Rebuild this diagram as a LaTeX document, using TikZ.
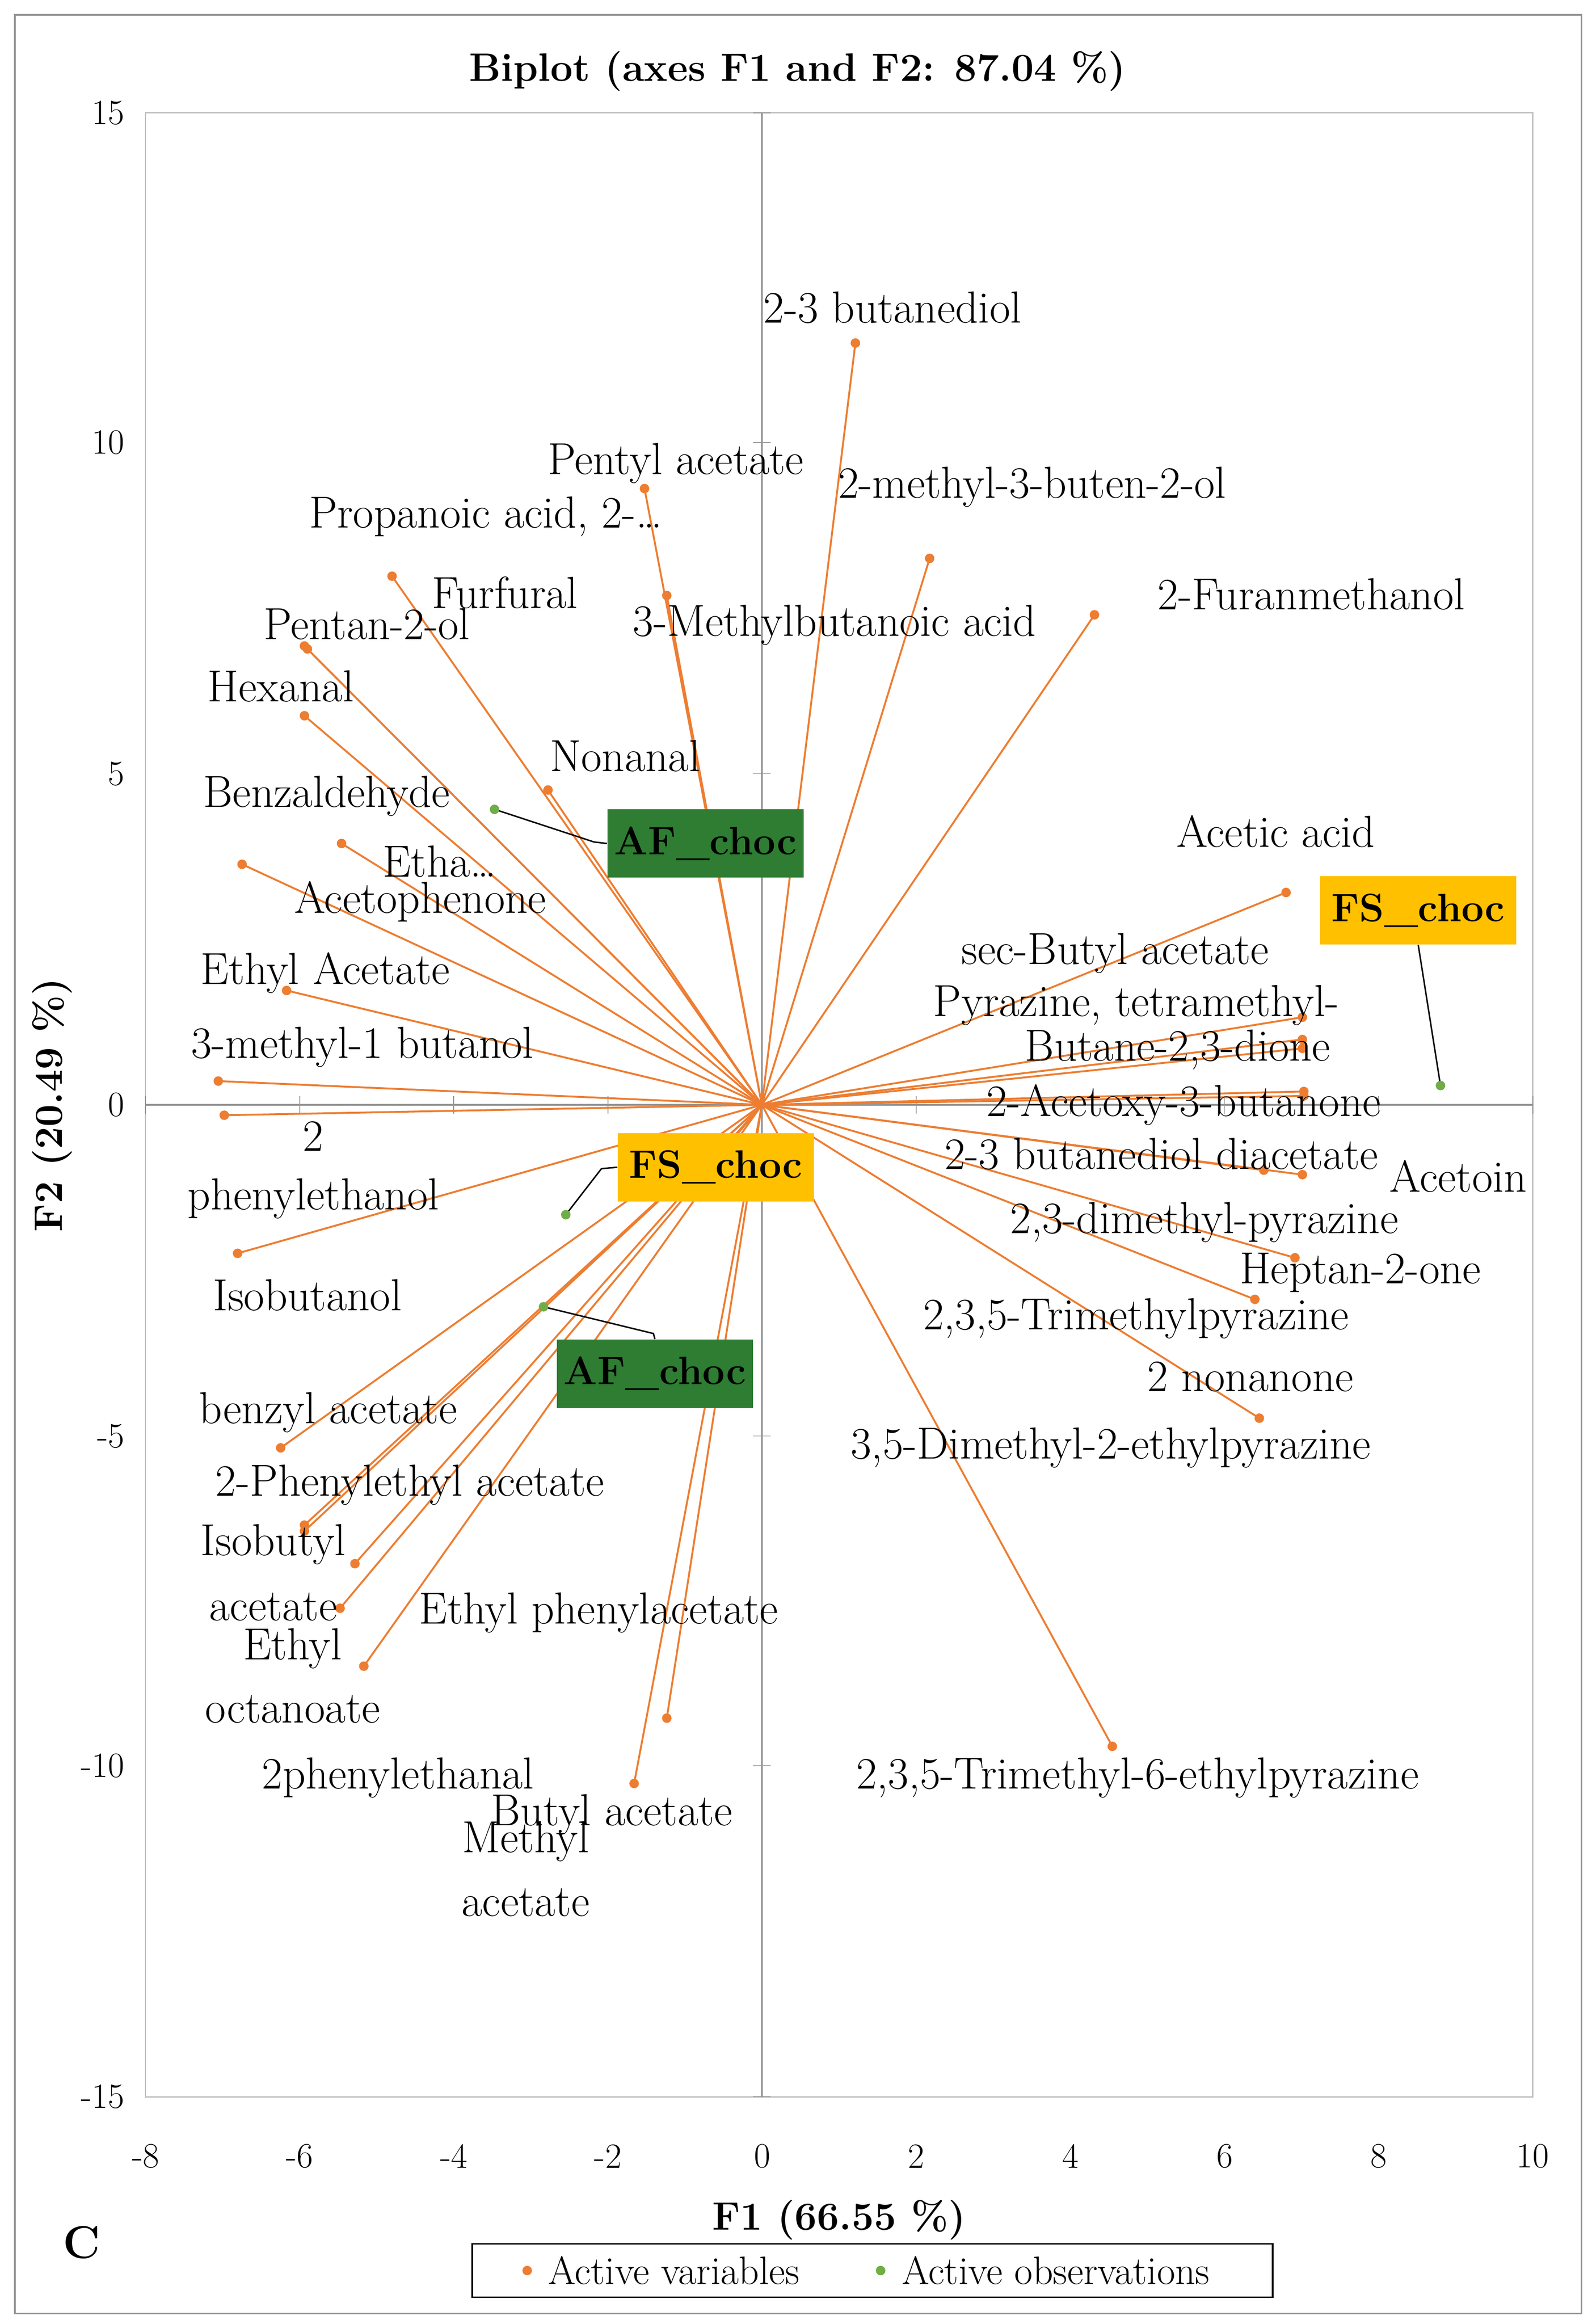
\documentclass[tikz,border=0pt]{standalone}
\begin{document}
\begin{tikzpicture}[x=0.025cm,y=-0.025cm,
  lab/.style={font=\fontsize{21.5}{25}\selectfont,inner sep=0pt},
  tick/.style={font=\fontsize{17}{20}\selectfont,inner sep=0pt},
  leg/.style={font=\fontsize{19}{22}\selectfont,inner sep=0pt},
  var/.style={draw=orange1,line width=0.9pt},
  box/.style={font=\bfseries\fontsize{19}{22}\selectfont,minimum width=3.3cm,minimum height=1.15cm,inner sep=0pt}]
\definecolor{orange1}{RGB}{237,125,49}
\definecolor{obsg}{RGB}{112,173,71}
\definecolor{boxg}{RGB}{46,125,50}
\definecolor{boxy}{RGB}{255,192,0}
\definecolor{ax}{RGB}{150,150,150}
\useasboundingbox (0,0) rectangle (1072,1565);
\draw[ax,line width=0.8pt] (10,10) rectangle (1065,1558);
\draw[ax!60,line width=0.6pt] (98,76) rectangle (1032,1412);
\draw[ax,line width=0.8pt] (98,744) -- (1032,744);
\draw[ax,line width=0.8pt] (513,76) -- (513,1412);
\foreach \y/\t in {76/15,298/10,521/5,744/0,967/-5,1189/-10,1412/-15}{
  \node[tick,anchor=east] (yt\t) at (84,\y) {\t};
  \draw[ax] (507,\y) -- (519,\y);}
\foreach \i/\t in {0/-8,1/-6,2/-4,3/-2,4/0,5/2,6/4,7/6,8/8,9/10}{
  \node[tick] (xt\i) at ({98+\i*103.8},1452) {\t};
  \draw[ax] ({98+\i*103.8},738) -- ({98+\i*103.8},750);}
\node[font=\bfseries\fontsize{19}{23}\selectfont] (title) at (537,48) {Biplot (axes F1 and F2: 87.04 \%)};
\node[font=\bfseries\fontsize{19}{23}\selectfont] (f1) at (565,1495) {F1 (66.55 \%)};
\node[font=\bfseries\fontsize{19}{23}\selectfont,rotate=90] (f2) at (35,744) {F2 (20.49 \%)};
\node[font=\bfseries\fontsize{22}{26}\selectfont] (c) at (55,1510) {C};
\coordinate (O) at (513,744);
\foreach \x/\y [count=\k] in {576/231,434/329,626/376,264/388,449/401,737/414,205/435,207/437,205/482,369/532,230/568,163/582,193/667,147/728,151/751,160/844,189/975,205/1027,205/1031,239/1053,229/1083,245/1122,449/1157,427/1201,866/601,877/685,877/700,877/706,878/735,878/738,851/788,877/791,872/847,845/875,848/955,749/1176}{
  \coordinate (v\k) at (\x,\y);
  \draw[var] (O) -- (v\k);
  \fill[orange1] (v\k) circle (3.2);}
\foreach \x/\y/\n in {333/545/o1,970/731/o2,381/818/o3,366/880/o4}{
  \coordinate (\n) at (\x,\y);}
\node[box,fill=boxg] (b1) at (475,568) {AF\_choc};
\node[box,fill=boxy] (b2) at (955,613) {FS\_choc};
\node[box,fill=boxy] (b3) at (482,786) {FS\_choc};
\node[box,fill=boxg] (b4) at (441,925) {AF\_choc};
\draw[black,line width=0.7pt] (o1) -- (400,567) -- (b1.west);
\draw[black,line width=0.7pt] (o2) -- (b2.south);
\draw[black,line width=0.7pt] (o3) -- (405,787) -- (b3.west);
\draw[black,line width=0.7pt] (o4) -- (440,898) -- (b4.north);
\foreach \n in {o1,o2,o3,o4}{\fill[obsg] (\n) circle (3.2);}
\foreach \x/\y/\t [count=\k] in {
601/207/{2-3 butanediol},455/312/{Pentyl acetate},695/328/{2-methyl-3-buten-2-ol},
327/348/{Propanoic acid, 2-\dots},340/399/{Furfural},247/420/{Pentan-2-ol},
562/421/{3-Methylbutanoic acid},883/400/{2-Furanmethanol},189/462/{Hexanal},
421/509/{Nonanal},220/536/{Benzaldehyde},296/580/{Etha\dots},283/607/{Acetophenone},
219/655/{Ethyl Acetate},244/705/{3-methyl-1 butanol},211/765/{2},211/807/{phenylethanol},
207/872/{Isobutanol},221/951/{benzyl acetate},276/1000/{2-Phenylethyl acetate},
184/1040/{Isobutyl},184/1082/{acetate},197/1110/{Ethyl},197/1151/{octanoate},
403/1086/{Ethyl phenylacetate},268/1197/{2phenylethanal},412/1222/{Butyl acetate},
354/1240/{Methyl},354/1281/{acetate},859/560/{Acetic acid},751/642/{sec-Butyl acetate},
765/677/{Pyrazine, tetramethyl-},793/707/{Butane-2,3-dione},797/744/{2-Acetoxy-3-butanone},
782/777/{2-3 butanediol diacetate},982/792/{Acetoin},811/823/{2,3-dimethyl-pyrazine},
916/857/{Heptan-2-one},765/888/{2,3,5-Trimethylpyrazine},842/927/{2 nonanone},
748/975/{3,5-Dimethyl-2-ethylpyrazine},766/1197/{2,3,5-Trimethyl-6-ethylpyrazine}}{
  \node[lab] (l\k) at (\x,\y) {\t};}
\draw[black,line width=0.7pt] (318,1511) rectangle (857,1547);
\fill[orange1] (355,1529) circle (3.2);
\node[leg,anchor=west] (lg1) at (369,1529) {Active variables};
\fill[obsg] (593,1529) circle (3.2);
\node[leg,anchor=west] (lg2) at (607,1529) {Active observations};
\end{tikzpicture}
\end{document}
